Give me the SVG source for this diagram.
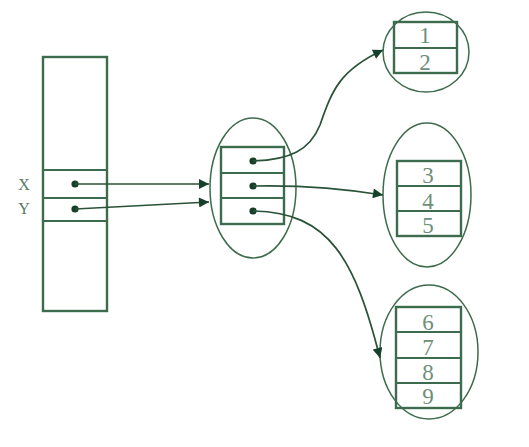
<svg xmlns="http://www.w3.org/2000/svg" width="529" height="447" viewBox="0 0 529 447">
<style>
.box{fill:none;stroke:#3d6b4d;stroke-width:2.4}
.ln{stroke:#3d6b4d;stroke-width:2.2}
.ell{fill:none;stroke:#3d6b4d;stroke-width:1.5}
.conn{fill:none;stroke:#2a5238;stroke-width:1.7}
.dot{fill:#17402a}
.num{font-family:"Liberation Serif",serif;font-size:23px;fill:#6e8f7a;text-anchor:middle}
.lbl{font-family:"Liberation Serif",serif;font-size:16px;fill:#5a7a66;text-anchor:middle}
</style>
<defs>
<marker id="ah" viewBox="0 0 10 10" refX="10" refY="5" markerWidth="11" markerHeight="10" markerUnits="userSpaceOnUse" orient="auto">
<path d="M0,0 L10,5 L0,10 z" fill="#17402a"/>
</marker>
</defs>
<rect width="529" height="447" fill="#fff"/>
<g id="stack">
<rect class="box" x="43" y="57" width="64" height="254"/>
<line class="ln" x1="43" y1="170" x2="107" y2="170"/>
<line class="ln" x1="43" y1="198" x2="107" y2="198"/>
<line class="ln" x1="43" y1="221" x2="107" y2="221"/>
<text class="lbl" x="24" y="190">X</text>
<text class="lbl" x="24" y="214">Y</text>
<circle class="dot" cx="75" cy="184" r="3.6"/>
<circle class="dot" cx="75" cy="209" r="3.6"/>
</g>
<g id="middle">
<ellipse class="ell" cx="253" cy="188" rx="43" ry="70"/>
<rect class="box" x="221" y="147" width="63" height="77"/>
<line class="ln" x1="221" y1="173" x2="284" y2="173"/>
<line class="ln" x1="221" y1="198" x2="284" y2="198"/>
<circle class="dot" cx="253" cy="161" r="3.6"/>
<circle class="dot" cx="253" cy="186" r="3.6"/>
<circle class="dot" cx="253" cy="211" r="3.6"/>
</g>
<g id="node12">
<ellipse class="ell" cx="426" cy="52" rx="43" ry="40"/>
<rect class="box" x="394" y="22" width="63" height="51"/>
<line class="ln" x1="394" y1="48" x2="457" y2="48"/>
<text class="num" x="425" y="43">1</text>
<text class="num" x="425" y="70">2</text>
</g>
<g id="node345">
<ellipse class="ell" cx="427" cy="195" rx="44" ry="72"/>
<rect class="box" x="397" y="161" width="64" height="75"/>
<line class="ln" x1="397" y1="186" x2="461" y2="186"/>
<line class="ln" x1="397" y1="211" x2="461" y2="211"/>
<text class="num" x="428" y="183">3</text>
<text class="num" x="428" y="209">4</text>
<text class="num" x="428" y="233">5</text>
</g>
<g id="node6789">
<ellipse class="ell" cx="429" cy="352" rx="49" ry="67"/>
<rect class="box" x="396" y="307" width="65" height="101"/>
<line class="ln" x1="396" y1="332" x2="461" y2="332"/>
<line class="ln" x1="396" y1="358" x2="461" y2="358"/>
<line class="ln" x1="396" y1="383" x2="461" y2="383"/>
<text class="num" x="428" y="330">6</text>
<text class="num" x="428" y="355">7</text>
<text class="num" x="428" y="380">8</text>
<text class="num" x="428" y="404">9</text>
</g>
<g id="connectors">
<path class="conn" d="M75,184 L209,184" marker-end="url(#ah)"/>
<path class="conn" d="M75,209 L209,202" marker-end="url(#ah)"/>
<path class="conn" d="M253,161 C290,160 310,150 320,125 C332,90 340,70 383,50" marker-end="url(#ah)"/>
<path class="conn" d="M253,186 C300,185 340,188 383,195" marker-end="url(#ah)"/>
<path class="conn" d="M253,211 C330,212 355,260 380,358" marker-end="url(#ah)"/>
</g>
</svg>
